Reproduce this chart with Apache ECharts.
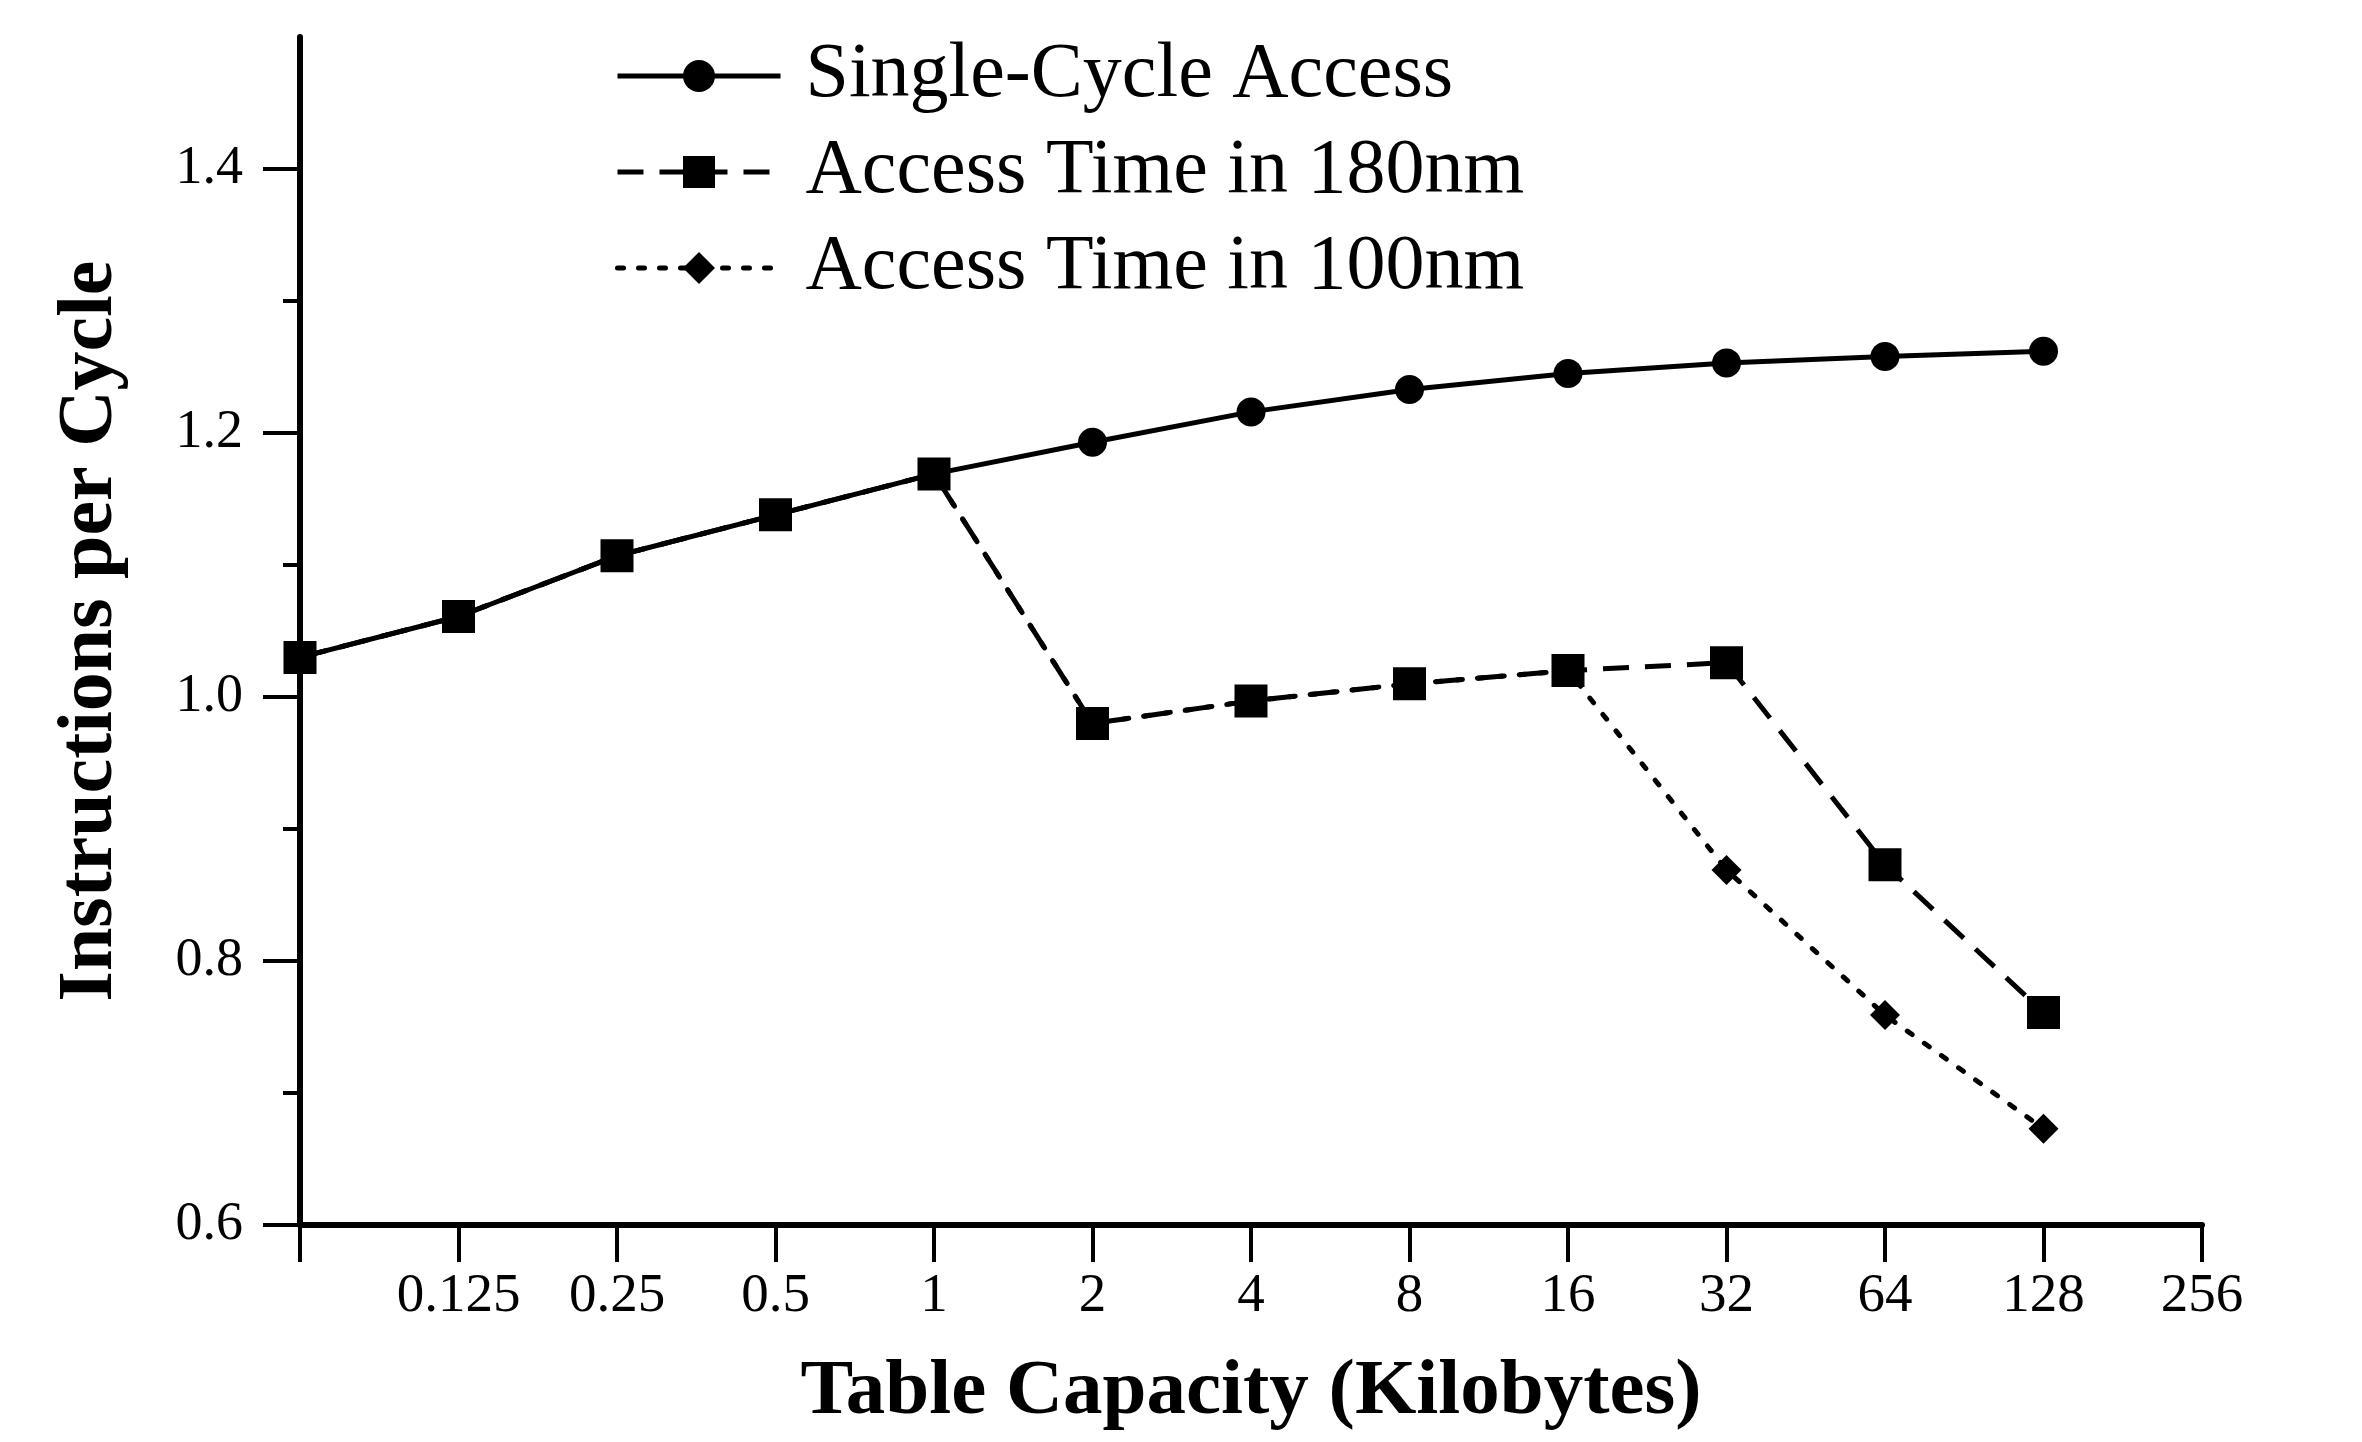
<!DOCTYPE html>
<html>
<head>
<meta charset="utf-8">
<script src="https://cdn.jsdelivr.net/npm/echarts@6/dist/echarts.min.js"></script>
<style>
  html, body { margin: 0; padding: 0; background: #fff; }
  #chart { width: 2362px; height: 1442px; }
</style>
</head>
<body>
<div id="chart"></div>
<script>
// table capacity in KB (first category sits on the y axis, unlabelled)
var capacities = ['', '0.125', '0.25', '0.5', '1', '2', '4', '8', '16', '32', '64', '128', '256'];

// IPC per capacity
var singleCycle = [1.030, 1.061, 1.107, 1.138, 1.169, 1.193, 1.216, 1.233, 1.245, 1.253, 1.258, 1.262, null];
var time180nm   = [1.030, 1.061, 1.107, 1.138, 1.169, 0.980, 0.997, 1.010, 1.020, 1.026, 0.873, 0.761, null];
var time100nm   = [1.030, 1.061, 1.107, 1.138, 1.169, 0.980, 0.997, 1.010, 1.020, 0.869, 0.759, 0.673, null];

var seriesNames = ['Single-Cycle Access', 'Access Time in 180nm', 'Access Time in 100nm'];

// y axis ticks
var yMajor = [0.6, 0.8, 1.0, 1.2, 1.4];
var yMinor = [0.7, 0.9, 1.1, 1.3];

var chart = echarts.init(document.getElementById('chart'));
var font = 'Liberation Serif';

var option = {
    backgroundColor: '#fff',
    animation: false,
    textStyle: { fontFamily: font, color: '#000' },
    grid: {
        left: 300,
        right: 160,
        top: 37,
        bottom: 217,
        outerBoundsMode: 'none'
    },
    legend: {
        left: 610,
        top: 31,
        orient: 'vertical',
        itemWidth: 163,
        itemHeight: 40,
        itemGap: 16,
        data: seriesNames,
        lineStyle: { width: 5 },
        textStyle: {
            fontFamily: font,
            fontSize: 78,
            color: '#000',
            lineHeight: 80,
            padding: [0, 0, 0, 20]
        }
    },
    xAxis: {
        type: 'category',
        data: capacities,
        boundaryGap: false,
        name: 'Table Capacity (Kilobytes)',
        nameLocation: 'middle',
        nameGap: 128,
        nameTextStyle: { fontFamily: font, fontSize: 79, fontWeight: 'bold', color: '#000' },
        axisLine: { lineStyle: { color: '#000', width: 6 } },
        axisTick: { show: true, length: 37, lineStyle: { color: '#000', width: 4 } },
        axisLabel: { fontFamily: font, fontSize: 55, color: '#000', margin: 44, interval: 0 },
        splitLine: { show: false }
    },
    yAxis: [
        {
            type: 'value',
            min: 0.6,
            max: 1.5,
            interval: 0.2,
            name: 'Instructions per Cycle',
            nameLocation: 'middle',
            nameGap: 170,
            nameTextStyle: { fontFamily: font, fontSize: 78, fontWeight: 'bold', color: '#000' },
            axisLine: { show: true, lineStyle: { color: '#000', width: 6 } },
            axisTick: { show: true, length: 37, customValues: yMajor, lineStyle: { color: '#000', width: 4 } },
            axisLabel: {
                fontFamily: font, fontSize: 54, color: '#000', margin: 57,
                customValues: yMajor,
                formatter: function (v) { return v.toFixed(1); }
            },
            splitLine: { show: false }
        },
        {
            type: 'value',
            min: 0.6,
            max: 1.5,
            interval: 0.2,
            position: 'left',
            axisLine: { show: false },
            axisTick: { show: true, length: 17, customValues: yMinor, lineStyle: { color: '#000', width: 4 } },
            axisLabel: { show: false },
            splitLine: { show: false }
        }
    ],
    series: [
        {
            name: seriesNames[0],
            type: 'line',
            data: singleCycle,
            symbol: 'circle',
            symbolSize: 29,
            lineStyle: { color: '#000', width: 5 },
            itemStyle: { color: '#000' },
            z: 2
        },
        {
            name: seriesNames[2],
            type: 'line',
            data: time100nm,
            symbol: 'diamond',
            symbolSize: 30,
            lineStyle: { color: '#000', width: 5, type: [6, 15], cap: 'round' },
            itemStyle: { color: '#000' },
            z: 3
        },
        {
            name: seriesNames[1],
            type: 'line',
            data: time180nm,
            symbol: 'rect',
            symbolSize: 33,
            lineStyle: { color: '#000', width: 5, type: [26, 16] },
            itemStyle: { color: '#000' },
            z: 4
        }
    ]
};

chart.setOption(option);
</script>
</body>
</html>
